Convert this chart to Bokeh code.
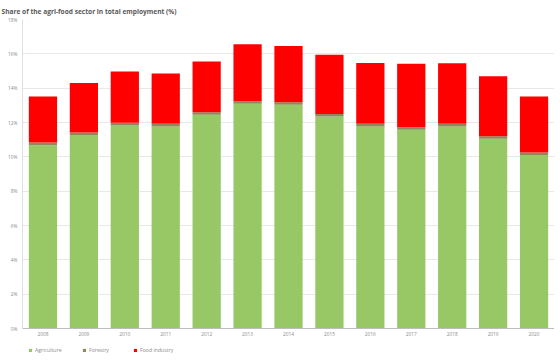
from bokeh.plotting import figure
from bokeh.layouts import column
from bokeh.models import FactorRange, Range1d, FixedTicker, ColumnDataSource, Legend, LegendItem
from bokeh.embed import file_html
from bokeh.resources import INLINE

years = ["2008", "2009", "2010", "2011", "2012", "2013", "2014",
         "2015", "2016", "2017", "2018", "2019", "2020"]
agriculture = [10.68, 11.27, 11.83, 11.77, 12.45, 13.09, 13.03, 12.35, 11.77, 11.58, 11.77, 11.05, 10.10]
forestry = [0.15, 0.15, 0.15, 0.15, 0.15, 0.15, 0.15, 0.15, 0.15, 0.15, 0.15, 0.15, 0.15]
food_industry = [2.68, 2.88, 2.99, 2.93, 2.95, 3.32, 3.28, 3.44, 3.55, 3.69, 3.53, 3.50, 3.27]
y_ticks = [0, 2, 4, 6, 8, 10, 12, 14, 16, 18]
series_names = ["Agriculture", "Forestry", "Food industry"]

colors = ["#98c766", "#8b8a5c", "#ff0000"]
stack_cols = ["Agriculture", "Forestry", "Food"]
FONT = "Open Sans"
GREY = "#8c8c8c"
W = 554

src = ColumnDataSource(dict(year=years, Agriculture=agriculture,
                            Forestry=forestry, Food=food_industry))

p = figure(width=W, height=338, x_range=FactorRange(*years), y_range=Range1d(0, 18),
           output_backend="svg", toolbar_location=None,
           title="Share of the agri-food sector in total employment (%)")
p.title.text_font = FONT
p.title.text_font_size = "6.6px"
p.title.text_font_style = "bold"
p.title.text_color = "#595959"
p.title.offset = -21
p.title.standoff = 8

p.vbar_stack(stack_cols, x="year", width=0.69, color=colors, source=src, line_width=0)

p.min_border_left = 22
p.min_border_right = 0
p.min_border_top = 0
p.min_border_bottom = 0
p.outline_line_color = None

p.yaxis.ticker = FixedTicker(ticks=y_ticks)
p.yaxis.major_label_overrides = {t: f"{t}%" for t in y_ticks}
p.yaxis.major_label_text_font = FONT
p.yaxis.major_label_text_font_size = "4.8px"
p.yaxis.major_label_text_color = GREY
p.yaxis.major_tick_out = 0
p.yaxis.major_tick_in = 0
p.yaxis.minor_tick_line_color = None
p.yaxis.axis_line_color = "#e0e0e0"
p.yaxis.major_label_standoff = 5

p.xaxis.major_label_text_font = FONT
p.xaxis.major_label_text_font_size = "4.8px"
p.xaxis.major_label_text_color = GREY
p.xaxis.major_tick_out = 0
p.xaxis.major_tick_in = 0
p.xaxis.axis_line_color = "#bdbdbd"
p.xaxis.major_label_standoff = 3

p.xgrid.grid_line_color = None
p.ygrid.grid_line_color = "#e8e8e8"
p.ygrid.ticker = FixedTicker(ticks=y_ticks)

# legend strip: same stacked bars, drawn out of view, used only for legend entries
lg = figure(width=W, height=20, x_range=FactorRange(*years), y_range=Range1d(100, 101),
            output_backend="svg", toolbar_location=None,
            x_axis_location=None, y_axis_location=None)
lg.min_border_left = 0
lg.min_border_right = 0
lg.min_border_top = 0
lg.min_border_bottom = 0
lg.outline_line_color = None
lg.xgrid.grid_line_color = None
lg.ygrid.grid_line_color = None
rs = lg.vbar_stack(stack_cols, x="year", width=0.69, color=colors, source=src, line_width=0)

legend_x = [6, 60, 111]
for name, r, lx in zip(series_names, rs, legend_x):
    leg = Legend(items=[LegendItem(label=name, renderers=[r])],
                 orientation="horizontal", location=(lx, 4))
    leg.label_text_font = FONT
    leg.label_text_font_size = "5.2px"
    leg.label_text_color = GREY
    leg.glyph_width = 4
    leg.glyph_height = 4
    leg.label_height = 5
    leg.padding = 0
    leg.margin = 0
    leg.label_standoff = 3
    leg.border_line_color = None
    leg.background_fill_alpha = 0
    lg.add_layout(leg)

layout = column(p, lg, spacing=0)
open("out.html", "w").write(file_html(layout, INLINE))
